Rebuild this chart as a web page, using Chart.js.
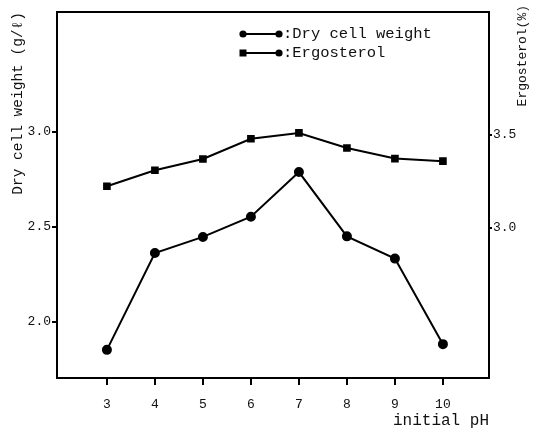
<!DOCTYPE html>
<html><head><meta charset="utf-8">
<script src="https://cdn.jsdelivr.net/npm/chart.js@4/dist/chart.umd.min.js"></script>
<style>html,body{margin:0;padding:0;background:#fff}#wrap{width:537px;height:430px}</style>
</head><body><div id="wrap"><canvas id="c" width="537" height="430"></canvas></div>
<script>
const pH = [3, 4, 5, 6, 7, 8, 9, 10];
const dryCellWeight = [1.853, 2.362, 2.447, 2.553, 2.788, 2.45, 2.333, 1.883];
const ergosterol = [3.222, 3.308, 3.369, 3.478, 3.509, 3.428, 3.371, 3.357];
const xTicks = [3, 4, 5, 6, 7, 8, 9, 10];
const leftTicks = [2.0, 2.5, 3.0];
const rightTicks = [3.0, 3.5];

const FONT = "'Liberation Mono', 'DejaVu Sans Mono', monospace";

const boxPlugin = {
  id: 'box',
  afterDraw(chart) {
    const {ctx, chartArea: a} = chart;
    ctx.save();
    ctx.strokeStyle = '#000';
    ctx.lineWidth = 2;
    ctx.strokeRect(a.left, a.top, a.right - a.left, a.bottom - a.top);
    // right title, reading bottom to top
    ctx.fillStyle = '#111';
    ctx.font = '13px ' + FONT;
    ctx.translate(523, 5);
    ctx.rotate(-Math.PI / 2);
    ctx.textAlign = 'right';
    ctx.textBaseline = 'middle';
    ctx.fillText('Ergosterol(%)', 0, 0);
    ctx.restore();
    // legend
    ctx.save();
    ctx.strokeStyle = '#000';
    ctx.fillStyle = '#000';
    ctx.lineWidth = 2;
    const rows = [{y: 34, label: ':Dry cell weight', style: 'circle'}, {y: 53, label: ':Ergosterol', style: 'rect'}];
    rows.forEach(r => {
      ctx.beginPath(); ctx.moveTo(243, r.y); ctx.lineTo(279, r.y); ctx.stroke();
      [243, 279].forEach((x, i) => {
        ctx.beginPath();
        if (r.style === 'circle' || i === 1) ctx.arc(x, r.y, 3.6, 0, Math.PI * 2);
        else ctx.rect(x - 3.5, r.y - 3.5, 7, 7);
        ctx.fill();
      });
      ctx.font = '15.5px ' + FONT;
      ctx.textBaseline = 'middle';
      ctx.textAlign = 'left';
      ctx.fillStyle = '#111';
      ctx.fillText(r.label, 283, r.y);
      ctx.fillStyle = '#000';
    });
    ctx.restore();
  }
};

new Chart(document.getElementById('c'), {
  type: 'scatter',
  data: {
    datasets: [
      {
        label: 'Dry cell weight',
        data: pH.map((x, i) => ({x, y: dryCellWeight[i]})),
        yAxisID: 'y',
        showLine: true,
        borderColor: '#000', backgroundColor: '#000',
        borderWidth: 2, pointRadius: 4, pointStyle: 'circle'
      },
      {
        label: 'Ergosterol',
        data: pH.map((x, i) => ({x, y: ergosterol[i]})),
        yAxisID: 'y2',
        showLine: true,
        borderColor: '#000', backgroundColor: '#000',
        borderWidth: 2, pointRadius: 4, pointStyle: 'rect'
      }
    ]
  },
  options: {
    responsive: false,
    animation: false,
    layout: {padding: {top: 12, left: 0, right: 0, bottom: 0}},
    plugins: {legend: {display: false}, tooltip: {enabled: false}},
    scales: {
      x: {
        type: 'linear', min: 1.96, max: 10.96,
        afterBuildTicks: s => { s.ticks = xTicks.map(v => ({value: v})); },
        afterFit: s => { s.height = 52; },
        grid: {drawOnChartArea: false, drawTicks: true, tickLength: 7, color: '#000', lineWidth: 2},
        border: {display: true, color: '#000', width: 2},
        ticks: {color: '#111', font: {family: FONT, size: 13}, padding: 12, callback: v => String(v)},
        title: {display: true, text: 'initial pH', align: 'end', color: '#111', font: {family: FONT, size: 16}, padding: {top: 0, bottom: 0}}
      },
      y: {
        type: 'linear', position: 'left', min: 1.705, max: 3.63,
        afterBuildTicks: s => { s.ticks = leftTicks.map(v => ({value: v})); },
        afterFit: s => { s.width = 57; },
        grid: {drawOnChartArea: false, drawTicks: true, tickLength: 5, color: '#000', lineWidth: 2},
        border: {display: true, color: '#000', width: 2},
        ticks: {color: '#111', font: {family: FONT, size: 13}, padding: 1, callback: v => v.toFixed(1)},
        title: {display: true, text: 'Dry cell weight (g/ℓ)', align: 'end', color: '#111', font: {family: FONT, size: 14.5}, padding: {top: 9, bottom: 2}}
      },
      y2: {
        type: 'linear', position: 'right', min: 2.19, max: 4.16,
        afterBuildTicks: s => { s.ticks = rightTicks.map(v => ({value: v})); },
        afterFit: s => { s.width = 48; },
        grid: {drawOnChartArea: false, drawTicks: true, tickLength: 3, color: '#000', lineWidth: 2},
        border: {display: true, color: '#000', width: 2},
        ticks: {color: '#111', font: {family: FONT, size: 13}, padding: 1, callback: v => v.toFixed(1)}
      }
    }
  },
  plugins: [boxPlugin]
});
</script></body></html>
